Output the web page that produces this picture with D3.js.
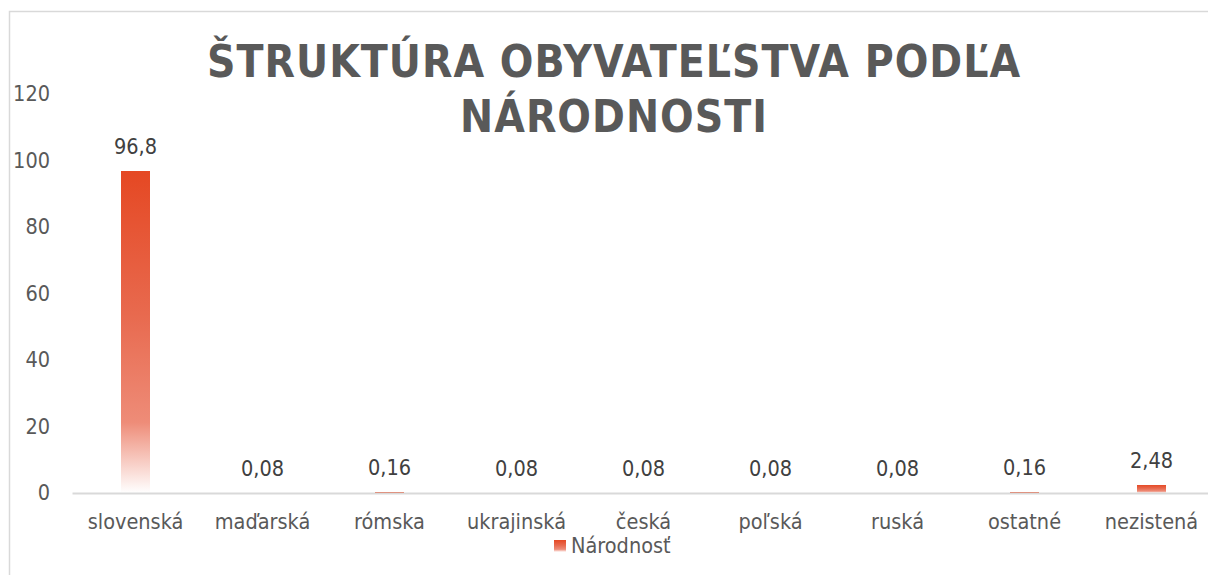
<!DOCTYPE html>
<html>
<head>
<meta charset="utf-8">
<script src="https://cdn.jsdelivr.net/npm/d3@7"></script>
<style>
  body { margin: 0; background: #fff; }
  svg { display: block; font-family: "DejaVu Sans Condensed", "DejaVu Sans", sans-serif; }
</style>
</head>
<body>
<svg id="canvas"></svg>
<script>
// data
let categories = ['slovenská', 'maďarská', 'rómska', 'ukrajinská', 'česká', 'poľská', 'ruská', 'ostatné', 'nezistená'];
let values = [96.8, 0.08, 0.16, 0.08, 0.08, 0.08, 0.08, 0.16, 2.48];
let yTicks = [0, 20, 40, 60, 80, 100, 120];
let titleLines = ['ŠTRUKTÚRA OBYVATEĽSTVA PODĽA', 'NÁRODNOSTI'];
let seriesName = 'Národnosť';

let w = 1208;
let h = 575;
let plotLeft = 72;
let plotRight = 1215;
let plotTop = 94;
let plotBottom = 493;

let canvas = d3.select('#canvas').attr('width', w).attr('height', h);

let defs = canvas.append('defs');
let grad = defs.append('linearGradient')
  .attr('id', 'barGrad')
  .attr('x1', 0).attr('y1', 0).attr('x2', 0).attr('y2', 1);
grad.append('stop').attr('offset', '0%').attr('stop-color', '#e54823');
grad.append('stop').attr('offset', '45%').attr('stop-color', '#e86a4f');
grad.append('stop').attr('offset', '78%').attr('stop-color', '#ee8c78');
grad.append('stop').attr('offset', '100%').attr('stop-color', '#ffffff');

// chart border
canvas.append('rect')
  .attr('x', 9.5).attr('y', 11.5)
  .attr('width', 1230).attr('height', 600)
  .attr('fill', 'none')
  .attr('stroke', '#d9d9d9')
  .attr('stroke-width', 1.5);

let xScale = d3.scaleBand()
  .domain(categories)
  .range([plotLeft, plotRight])
  .paddingInner(0.77)
  .paddingOuter(0.385);

let yScale = d3.scaleLinear()
  .domain([0, 120])
  .range([plotBottom, plotTop]);

// title
canvas.append('g')
  .selectAll('text')
  .data(titleLines)
  .enter()
  .append('text')
  .attr('x', 614)
  .attr('y', (d, i) => 77 + i * 55)
  .attr('text-anchor', 'middle')
  .attr('font-size', 44)
  .attr('font-weight', 'bold')
  .attr('letter-spacing', 1)
  .attr('fill', '#595959')
  .text(d => d);

// y axis labels (no line)
let yAxis = d3.axisLeft(yScale)
  .tickValues(yTicks)
  .tickSize(0)
  .tickPadding(0)
  .tickFormat(d3.format('d'));

let yg = canvas.append('g')
  .attr('transform', 'translate(' + 50 + ', 0)')
  .call(yAxis)
  .attr('font-family', null)
  .attr('font-size', 21.5);
yg.select('.domain').remove();
yg.selectAll('text')
  .attr('fill', '#595959');

// bars
canvas.selectAll('rect.bar')
  .data(values)
  .enter()
  .append('rect')
  .attr('class', 'bar')
  .attr('x', (d, i) => xScale(categories[i]))
  .attr('y', d => yScale(d))
  .attr('width', xScale.bandwidth())
  .attr('height', d => plotBottom - yScale(d))
  .attr('shape-rendering', 'crispEdges')
  .attr('fill', 'url(#barGrad)');

// x axis
let xAxis = d3.axisBottom(xScale)
  .tickSize(0)
  .tickPadding(0);

let xg = canvas.append('g')
  .attr('transform', 'translate(0, ' + plotBottom + ')')
  .call(xAxis)
  .attr('font-family', null)
  .attr('font-size', 21.5);
xg.select('.domain')
  .attr('stroke', '#d9d9d9')
  .attr('stroke-width', 2);
xg.selectAll('text')
  .attr('fill', '#595959')
  .attr('dy', null)
  .attr('y', 36);

// data labels
canvas.selectAll('text.lbl')
  .data(values)
  .enter()
  .append('text')
  .attr('class', 'lbl')
  .attr('x', (d, i) => xScale(categories[i]) + xScale.bandwidth() / 2)
  .attr('y', d => yScale(d) - 17)
  .attr('text-anchor', 'middle')
  .attr('font-size', 21.5)
  .attr('fill', '#404040')
  .text(d => String(d).replace('.', ','));

// legend
let legend = canvas.append('g').attr('transform', 'translate(554, 540)');
legend.append('rect')
  .attr('width', 12).attr('height', 12)
  .attr('fill', 'url(#barGrad)');
legend.append('text')
  .attr('x', 17).attr('y', 13)
  .attr('font-size', 21.5)
  .attr('fill', '#595959')
  .text(seriesName);
</script>
</body>
</html>
